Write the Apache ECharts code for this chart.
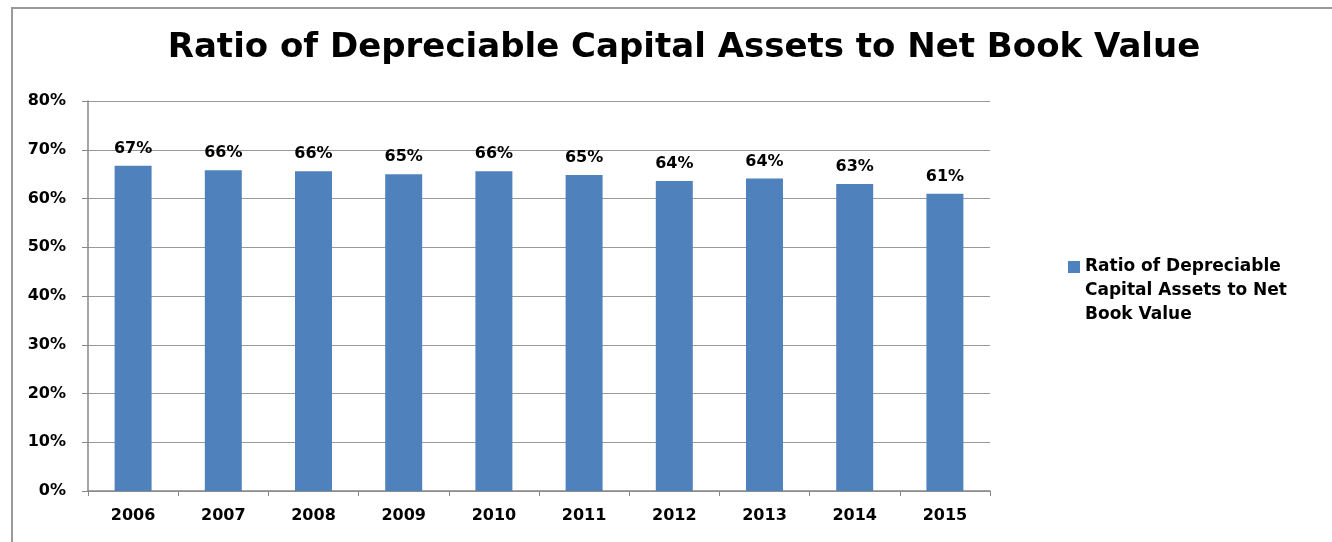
<!DOCTYPE html>
<html>
<head>
<meta charset="utf-8">
<script src="https://cdn.jsdelivr.net/npm/echarts@6/dist/echarts.min.js"></script>
<style>
html,body{margin:0;padding:0;background:#fff;}
#chart{width:1332px;height:542px;}
</style>
</head>
<body>
<div id="chart"></div>
<script>
const titleText = 'Ratio of Depreciable Capital Assets to Net Book Value';
const seriesName = 'Ratio of Depreciable Capital Assets to Net Book Value';
const years = ['2006','2007','2008','2009','2010','2011','2012','2013','2014','2015'];
const ratios = [66.7, 65.8, 65.6, 65.0, 65.6, 64.8, 63.6, 64.1, 63.0, 61.0];
const yTicks = [0, 10, 20, 30, 40, 50, 60, 70, 80];

const FONT = '"DejaVu Sans", sans-serif';
const chart = echarts.init(document.getElementById('chart'), null, {renderer: 'canvas'});
chart.setOption({
  animation: false,
  backgroundColor: '#fff',
  title: {
    text: titleText,
    left: 679,
    textAlign: 'center',
    top: 26,
    textStyle: {fontFamily: FONT, fontWeight: 'bold', fontSize: 34, color: '#000'}
  },
  graphic: [{
    type: 'polyline',
    shape: {points: [[12, 542], [12, 8], [1332, 8]]},
    style: {stroke: '#999', lineWidth: 2, fill: null}
  }],
  legend: {
    orient: 'vertical',
    left: 1068,
    top: 207,
    padding: 0,
    itemWidth: 12,
    itemHeight: 12,
    icon: 'rect',
    data: [seriesName],
    formatter: name => '\n\n' + name,
    textStyle: {
      fontFamily: FONT, fontWeight: 'bold', fontSize: 17, color: '#000',
      width: 232, overflow: 'break', lineHeight: 24
    }
  },
  grid: {left: 88, right: 342, top: 101, bottom: 51, containLabel: false},
  xAxis: {
    type: 'category',
    data: years,
    axisLine: {lineStyle: {color: '#888', width: 1.5}},
    axisTick: {show: true, length: 5, lineStyle: {color: '#888'}},
    axisLabel: {fontFamily: FONT, fontWeight: 'bold', fontSize: 16, color: '#000', margin: 17}
  },
  yAxis: {
    type: 'value',
    min: yTicks[0],
    max: yTicks[yTicks.length - 1],
    interval: 10,
    axisLine: {show: true, lineStyle: {color: '#888', width: 1.5}},
    axisTick: {show: true, length: 6, lineStyle: {color: '#888'}},
    splitLine: {lineStyle: {color: '#999', width: 1}},
    axisLabel: {fontFamily: FONT, fontWeight: 'bold', fontSize: 16, color: '#000', margin: 22,
      formatter: v => v + '%'}
  },
  series: [{
    name: seriesName,
    type: 'bar',
    data: ratios,
    barWidth: '41%',
    itemStyle: {color: '#4F81BD'},
    label: {
      show: true, position: 'top', distance: 9,
      fontFamily: FONT, fontWeight: 'bold', fontSize: 16, color: '#000',
      formatter: p => Math.round(p.value) + '%'
    }
  }]
});
</script>
</body>
</html>
